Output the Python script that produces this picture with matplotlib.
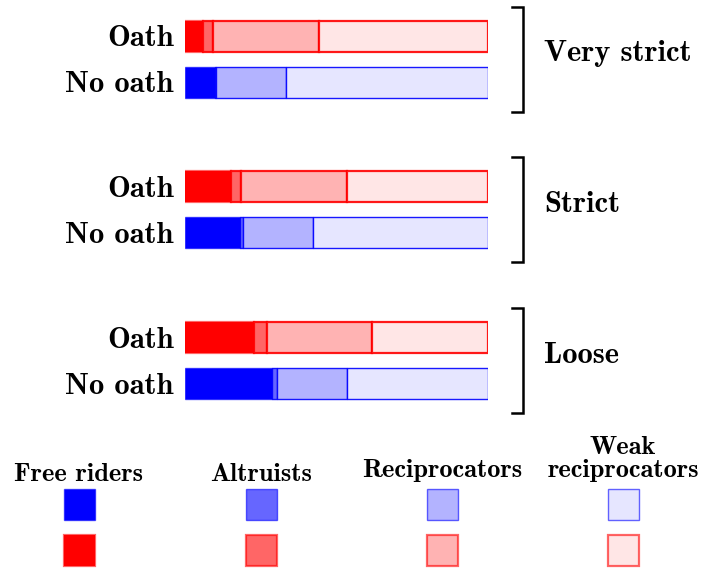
import matplotlib

matplotlib.use('agg')

import matplotlib.pyplot as plt

# shares of each player type (percent)
regimes = ['Very strict', 'Strict', 'Loose']
types = ['Free riders', 'Altruists', 'Reciprocators', 'Weak\nreciprocators']
oath = [[6.1, 3.3, 34.7, 55.9],
        [15.3, 3.2, 34.9, 46.6],
        [22.9, 4.0, 34.9, 38.2]]
no_oath = [[9.8, 0.3, 23.3, 66.6],
           [18.3, 0.7, 23.4, 57.6],
           [28.6, 1.6, 23.2, 46.6]]

alphas = [1.0, 0.6, 0.3, 0.1]


def tint(rgb, a):
    return tuple(1 - a * (1 - c) for c in rgb)


RED = (1, 0, 0)
BLUE = (0, 0, 1)
FONT = 'cmb10'

W, H = 706, 570
fig = plt.figure(figsize=(W / 100, H / 100), dpi=100)

# bar axes: 46 px per unit vertically, bars from x=185 to x=488 px
px = 46.0
gap = 3.28
ax = fig.add_axes([185 / W, 0, 303 / W, 1])
ax.set_xlim(0, 100)
ax.set_ylim((H - 36) / px, -36 / px)

yticks, ylabels = [], []
for g, name in enumerate(regimes):
    y0 = g * gap
    for rowy, shares, col, lw in [(y0, oath[g], RED, 1.6), (y0 + 1, no_oath[g], BLUE, 1.0)]:
        left = 0
        for k, v in enumerate(shares):
            ax.barh(rowy, v, left=left, height=31 / px,
                    color=tint(col, alphas[k]),
                    edgecolor=col + (0.6 if k == 0 else 0.9,), linewidth=lw)
            left += v
    yticks += [y0, y0 + 1]
    ylabels += ['Oath', 'No oath']

    # bracket and regime label
    mid = y0 + 0.5
    half = 52.5 / px
    bx0, bx1 = 107.9, 111.6
    ax.plot([bx0, bx1, bx1, bx0], [mid - half, mid - half, mid + half, mid + half],
            color='black', lw=1.8, clip_on=False, solid_joinstyle='miter')
    ax.text(118.5, mid + 0.05, name, ha='left', va='baseline', fontsize=22,
            family=FONT, clip_on=False)

ax.set_yticks(yticks)
ax.set_yticklabels(ylabels, family=FONT, fontsize=22)
ax.tick_params(axis='y', length=0, pad=8)
ax.tick_params(axis='x', bottom=False, labelbottom=False)
for s in ax.spines.values():
    s.set_visible(False)
ax.patch.set_visible(False)

# legend axes in pixel units
lg = fig.add_axes([0, 0, 1, 1], zorder=-1)
lg.set_xlim(0, W)
lg.set_ylim(H, 0)
lg.axis('off')
centers = [79, 261, 442, 623]
title_base = [481, 481, 477, 477]
for k, t in enumerate(types):
    lg.bar(centers[k], 31, bottom=489, width=31, color=tint(BLUE, alphas[k]),
           edgecolor=BLUE + (0.6,), linewidth=1.0)
    lg.bar(centers[k], 31, bottom=535, width=31, color=tint(RED, alphas[k]),
           edgecolor=RED + (0.6,), linewidth=1.6)
    lg.text(centers[k], title_base[k], t, ha='center', va='baseline',
            fontsize=19, family=FONT, linespacing=0.98, multialignment='center')

fig.savefig('out.png', dpi=100)
